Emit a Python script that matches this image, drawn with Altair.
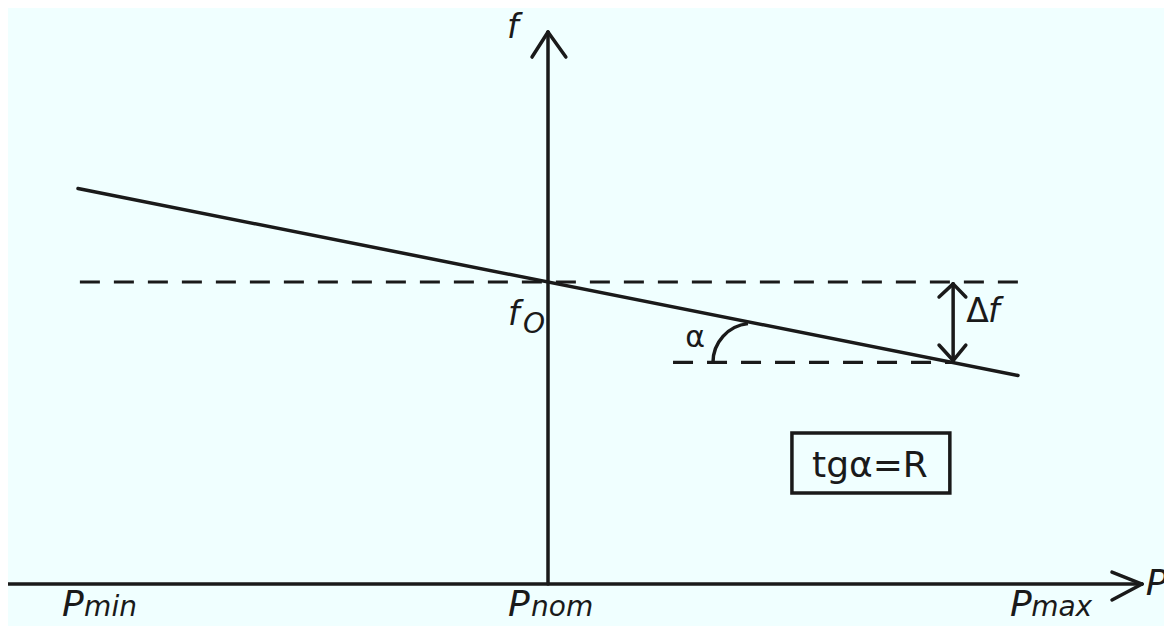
import altair as alt
import pandas as pd

# ---------------- data (diagram units: P relative to Pnom, f relative to f0) ----------------
# main droop characteristic
line_P = [-1.0, 1.0]
line_f = [1.0, -1.0]

# solid segments: axes, arrow heads, delta-f arrow, characteristic
solid_x1 = [-1.17, 1.200, 1.200, 0.000, -0.034, 0.038, line_P[0], 0.862, 0.832, 0.889, 0.832, 0.889]
solid_y1 = [-3.23, -3.102, -3.401, -3.23, 2.406, 2.406, line_f[0], -0.02, -0.16, -0.16, -0.674, -0.674]
solid_x2 = [1.264, 1.264, 1.264, 0.000, 0.000, 0.000, line_P[1], 0.862, 0.862, 0.862, 0.862, 0.862]
solid_y2 = [-3.23, -3.23, -3.23, 2.674, 2.674, 2.674, line_f[1], -0.84, -0.02, -0.02, -0.84, -0.84]

# dashed reference lines (f0 level and lowered level)
dash_x1 = [-0.996, 0.266]
dash_y1 = [0.0, -0.86]
dash_x2 = [1.0, 0.862]
dash_y2 = [0.0, -0.86]

# alpha arc centre
arc_x = [0.434]
arc_y = [-0.86]

# formula box
box_x1 = [0.519]
box_x2 = [0.855]
box_y1 = [-1.615]
box_y2 = [-2.257]

# labels
bigP_text = ["P", "P", "P", "P"]
bigP_x = [-1.034, -0.085, 0.983, 1.272]
bigP_y = [-3.572, -3.572, -3.572, -3.348]

sub_text = ["min", "nom", "max", "O"]
sub_x = [-0.987, -0.036, 1.028, -0.053]
sub_y = [-3.572, -3.572, -3.572, -0.545]

fital_text = ["f", "f", "f"]
fital_x = [-0.087, -0.085, 0.936]
fital_y = [2.61, -0.46, -0.428]

delta_text = ["Δ"]
delta_x = [0.89]
delta_y = [-0.428]

alpha_text = ["α"]
alpha_x = [0.292]
alpha_y = [-0.70]

formula_text = ["tgα=R"]
formula_x = [0.685]
formula_y = [-2.086]

# ---------------- chart ----------------
INK = "#1a1a1a"
FONT = "DejaVu Sans"
W, H = 1156, 618
xs = alt.Scale(domain=[-1.148936, 1.310638], nice=False, zero=False)
ys = alt.Scale(domain=[-3.6791, 2.9305], nice=False, zero=False)


def X(f="x"):
    return alt.X(f"{f}:Q", scale=xs, axis=None)


def Y(f="y"):
    return alt.Y(f"{f}:Q", scale=ys, axis=None)


solid_df = pd.DataFrame({"x": solid_x1, "y": solid_y1, "x2": solid_x2, "y2": solid_y2})
dash_df = pd.DataFrame({"x": dash_x1, "y": dash_y1, "x2": dash_x2, "y2": dash_y2})
arc_df = pd.DataFrame({"x": arc_x, "y": arc_y})
box_df = pd.DataFrame({"x": box_x1, "x2": box_x2, "y": box_y1, "y2": box_y2})

solid = alt.Chart(solid_df).mark_rule(color=INK, strokeWidth=3.5, strokeCap="round").encode(
    x=X(), y=Y(), x2="x2:Q", y2="y2:Q")
dashed = alt.Chart(dash_df).mark_rule(color=INK, strokeWidth=3.2, strokeDash=[20, 14]).encode(
    x=X(), y=Y(), x2="x2:Q", y2="y2:Q")
arc = alt.Chart(arc_df).mark_arc(
    radius=39, innerRadius=39, theta=4.712, theta2=6.18,
    stroke=INK, strokeWidth=3.5, fillOpacity=0).encode(x=X(), y=Y())
box = alt.Chart(box_df).mark_rect(stroke=INK, strokeWidth=3.5, fillOpacity=0).encode(
    x=X(), x2="x2:Q", y=Y(), y2="y2:Q")


def text_layer(texts, xv, yv, size, style="normal", align="left"):
    df = pd.DataFrame({"t": texts, "x": xv, "y": yv})
    return alt.Chart(df).mark_text(
        font=FONT, fontSize=size, fontStyle=style, align=align,
        baseline="alphabetic", color=INK).encode(x=X(), y=Y(), text="t:N")


bigP = text_layer(bigP_text, bigP_x, bigP_y, 36, "italic")
subs = text_layer(sub_text, sub_x, sub_y, 28, "italic")
fital = text_layer(fital_text, fital_x, fital_y, 33, "italic")
delta = text_layer(delta_text, delta_x, delta_y, 33)
alpha = text_layer(alpha_text, alpha_x, alpha_y, 30)
formula = text_layer(formula_text, formula_x, formula_y, 36, align="center")

chart = alt.layer(
    dashed, solid, arc, box, bigP, subs, fital, delta, alpha, formula
).properties(
    width=W, height=H, background="#f0ffff", padding=0,
    autosize=alt.AutoSizeParams(type="none"),
).configure_view(stroke=None)

chart.save("out.html", embed_options={"renderer": "svg", "actions": False})
